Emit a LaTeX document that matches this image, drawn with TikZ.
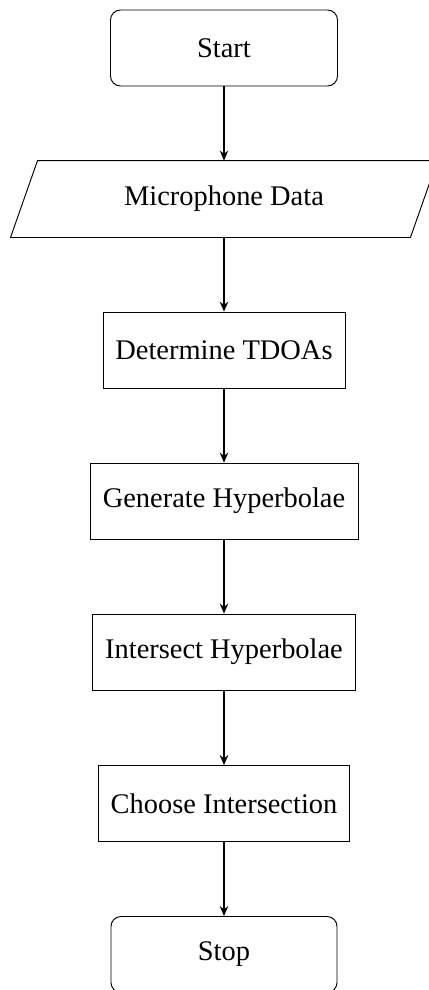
\documentclass[tikz,border=0pt]{standalone}
\usepackage{fontspec}
\setmainfont{Liberation Serif}
\usetikzlibrary{arrows.meta}
\begin{document}
\begin{tikzpicture}[x=0.422pt,y=-0.422pt,
  box/.style={draw,line width=0.4pt,minimum height=76*0.422pt,inner sep=0pt,
    font=\fontsize{12}{14}\selectfont},
  term/.style={box,rounded corners=10*0.422pt},
  io/.style={minimum height=76*0.422pt,inner sep=0pt,font=\fontsize{12}{14}\selectfont},
  arr/.style={-{Stealth[length=4.2pt,width=3.6pt,inset=1.4pt]},line width=0.8pt}]
\useasboundingbox (0,0) rectangle (429,990);
\node[term,minimum width=227*0.422pt] (start) at (224,48) {Start};
\node[io,minimum width=426*0.422pt] (micro) at (224,199) {Microphone Data};
\draw[line width=0.4pt] ([xshift=27*0.422pt]micro.north west) -- (micro.north east)
  -- ([xshift=-27*0.422pt]micro.south east) -- (micro.south west) -- cycle;
\node[box,minimum width=242*0.422pt] (det) at (224,350) {Determine TDOAs};
\node[box,minimum width=268*0.422pt] (gen) at (224,501) {Generate Hyperbolae};
\node[box,minimum width=263*0.422pt] (int) at (224,652) {Intersect Hyperbolae};
\node[box,minimum width=251*0.422pt] (cho) at (224,803.5) {Choose Intersection};
\node[term,minimum width=226*0.422pt] (stop) at (224,954.5) {Stop};
\draw[arr] (start) -- (micro);
\draw[arr] (micro) -- (det);
\draw[arr] (det) -- (gen);
\draw[arr] (gen) -- (int);
\draw[arr] (int) -- (cho);
\draw[arr] (cho) -- (stop);
\end{tikzpicture}
\end{document}
